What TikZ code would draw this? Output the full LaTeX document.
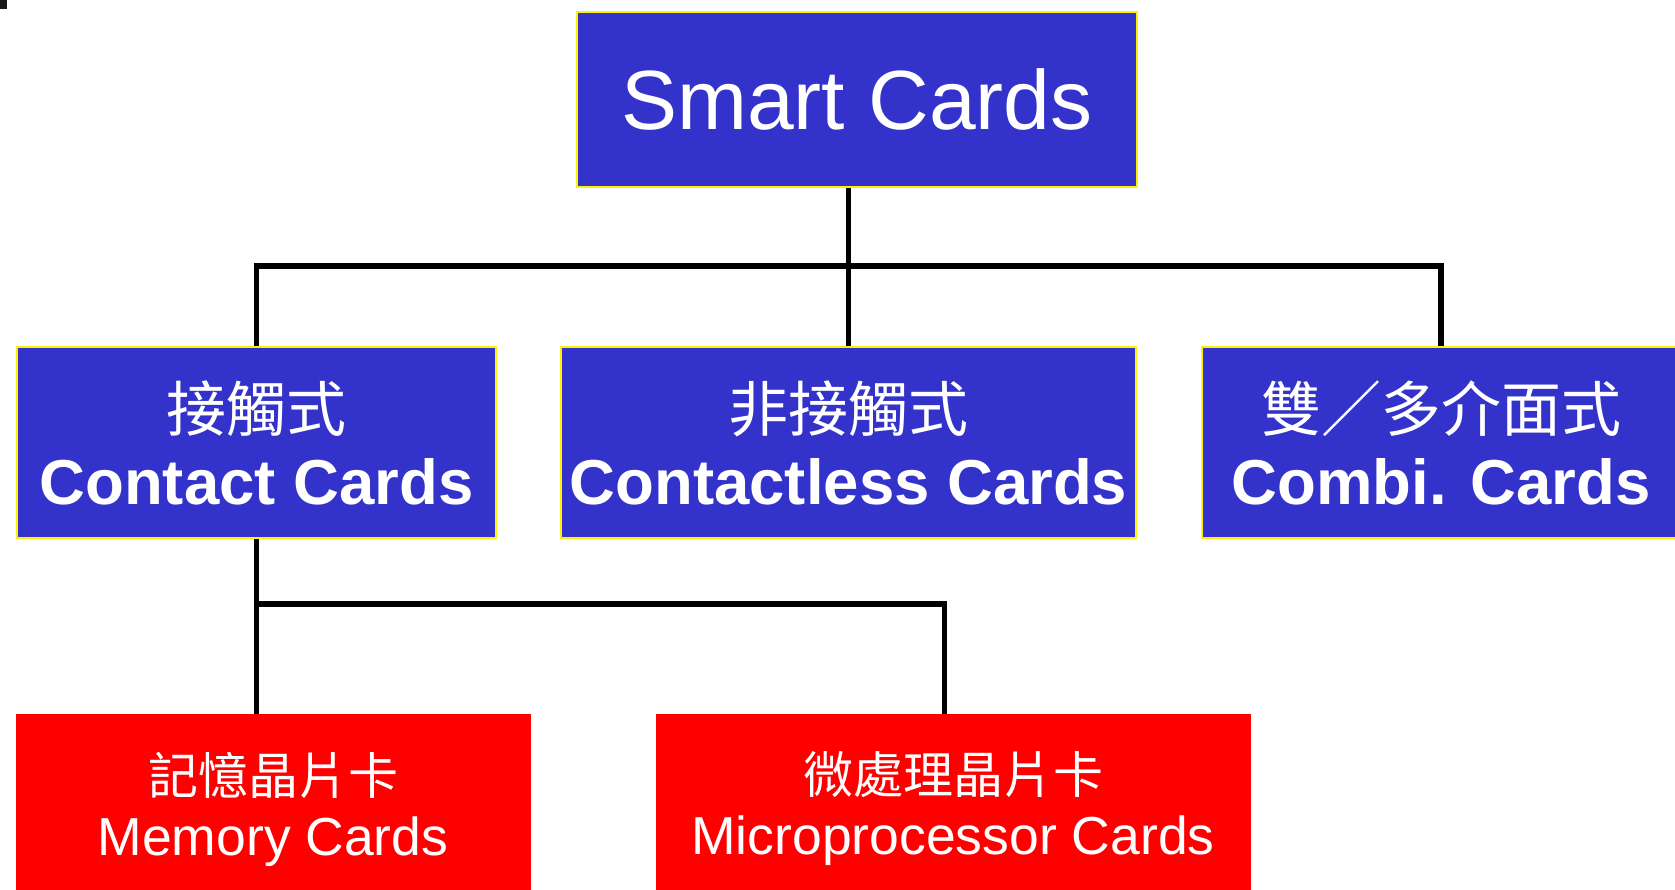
\documentclass[tikz,border=0pt]{standalone}
\usepackage{fontspec}
\setmainfont{Liberation Sans}
\newfontfamily\cjk{Noto Sans CJK TC}
\usetikzlibrary{calc,positioning}

\definecolor{cardblue}{RGB}{51,51,204}

\begin{document}
\begin{tikzpicture}[
    x=1pt, y=-1pt,
    box/.style     = {draw=yellow, line width=1.5pt, fill=cardblue, text=white,
                      inner sep=0pt, minimum height=191pt, align=center,
                      font=\fontsize{63.5}{73}\selectfont\bfseries},
    chipbox/.style = {draw=red, fill=red, text=white,
                      inner sep=0pt, minimum height=190pt, align=center,
                      font=\fontsize{53.5}{61}\selectfont},
    link/.style    = {line width=5.5pt, black}
  ]

  \useasboundingbox (0,0) rectangle (1675,889);
  \fill[black!90] (0,0) rectangle (7,9);

  \coordinate (origin) at (0,0);

  \node[box, minimum width=560pt, minimum height=175pt,
        font=\fontsize{84}{100}\selectfont]
        (smart) at ($(origin)+(857,99.5)$) {Smart Cards};

  \node[box, minimum width=479pt] (contact)     at ($(origin)+(256.5,442.5)$)
        {{\cjk\mdseries\fontsize{60}{73}\selectfont 接觸式}\\Contact Cards};
  \node[box, minimum width=575pt] (contactless) at ($(origin)+(848.5,442.5)$)
        {{\cjk\mdseries\fontsize{60}{73}\selectfont 非接觸式}\\Contactless Cards};
  \node[box, minimum width=478pt] (combi)       at ($(origin)+(1441,442.5)$)
        {{\cjk\mdseries\fontsize{60}{73}\selectfont 雙／多介面式}\\Combi. Cards};

  \node[chipbox, minimum width=514pt] (memory) at ($(origin)+(273,809)$)
        {{\cjk\fontsize{50}{61}\selectfont 記憶晶片卡}\\Memory Cards};
  \node[chipbox, minimum width=594pt] (micro)  at ($(origin)+(953,809)$)
        {{\cjk\fontsize{50}{61}\selectfont 微處理晶片卡}\\Microprocessor Cards};

  \coordinate (topbus) at (0,266);
  \coordinate (lowbus) at (0,604);

  % upper level
  \draw[link] (contactless.north) -- (contactless.north |- smart.south);
  \draw[link] (contact.north) |- (topbus -| combi.north) -- (combi.north);

  % lower level
  \draw[link] (contact.south) -- (contact.south |- memory.north);
  \draw[link] (contact.south |- lowbus) -| ($(micro.north)+(-8.5,0)$);

\end{tikzpicture}
\end{document}
